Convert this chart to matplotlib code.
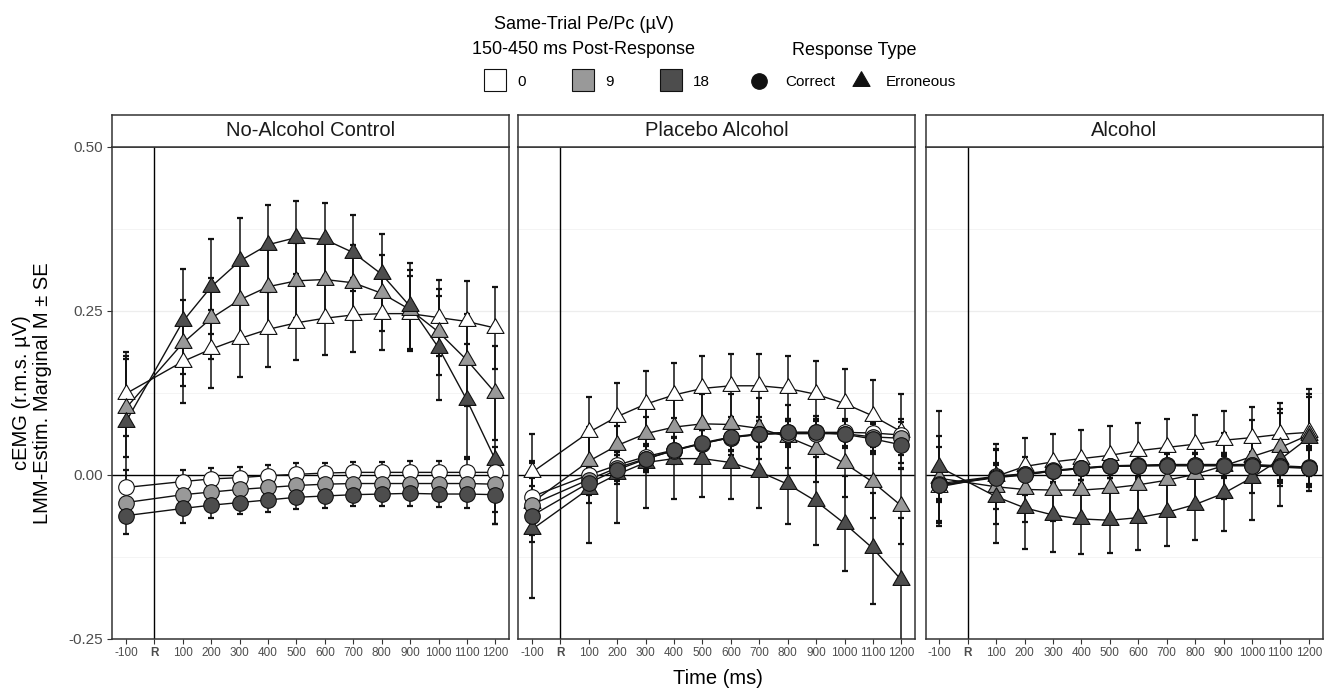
import matplotlib
matplotlib.use('Agg')
import matplotlib.pyplot as plt
from matplotlib.lines import Line2D

plt.rcParams['font.family'] = ['Liberation Sans', 'DejaVu Sans']

# ---------------- data ----------------
times = [-100, 100, 200, 300, 400, 500, 600, 700, 800, 900, 1000, 1100, 1200]
tick_positions = [-100, 0, 100, 200, 300, 400, 500, 600, 700, 800, 900, 1000, 1100, 1200]
tick_labels = ['-100', 'R', '100', '200', '300', '400', '500', '600', '700', '800',
               '900', '1000', '1100', '1200']
y_ticks = [-0.25, 0.0, 0.25, 0.5]
y_tick_labels = ['-0.25', '0.00', '0.25', '0.50']
panels = ['No-Alcohol Control', 'Placebo Alcohol', 'Alcohol']
pe_levels = ['0', '9', '18']
pe_fills = ['#FFFFFF', '#999999', '#4D4D4D']
response_types = ['Correct', 'Erroneous']

# No-Alcohol Control
ctrl_err_0 = [0.124, 0.173, 0.192, 0.208, 0.222, 0.232, 0.239, 0.244, 0.246, 0.246, 0.240, 0.234, 0.224]
ctrl_err_9 = [0.102, 0.201, 0.239, 0.267, 0.287, 0.296, 0.298, 0.293, 0.277, 0.252, 0.218, 0.175, 0.125]
ctrl_err_18 = [0.081, 0.234, 0.287, 0.326, 0.351, 0.362, 0.359, 0.339, 0.306, 0.257, 0.194, 0.114, 0.023]
ctrl_cor_0 = [-0.019, -0.010, -0.006, -0.004, -0.001, 0.001, 0.003, 0.004, 0.004, 0.004, 0.004, 0.004, 0.004]
ctrl_cor_9 = [-0.042, -0.030, -0.026, -0.022, -0.019, -0.016, -0.014, -0.013, -0.013, -0.013, -0.013, -0.013, -0.014]
ctrl_cor_18 = [-0.062, -0.051, -0.046, -0.042, -0.038, -0.034, -0.032, -0.030, -0.029, -0.028, -0.029, -0.029, -0.030]
ctrl_err_0_se = [0.064, 0.064, 0.060, 0.058, 0.057, 0.056, 0.056, 0.056, 0.056, 0.057, 0.058, 0.061, 0.063]
ctrl_err_9_se = [0.075, 0.066, 0.062, 0.060, 0.058, 0.057, 0.057, 0.057, 0.058, 0.060, 0.065, 0.070, 0.072]
ctrl_err_18_se = [0.100, 0.080, 0.072, 0.066, 0.060, 0.056, 0.056, 0.058, 0.062, 0.066, 0.079, 0.086, 0.097]
ctrl_cor_0_se = [0.026, 0.017, 0.016, 0.016, 0.016, 0.017, 0.016, 0.016, 0.016, 0.017, 0.018, 0.020, 0.038]
ctrl_cor_9_se = [0.026, 0.019, 0.017, 0.017, 0.017, 0.017, 0.017, 0.017, 0.017, 0.018, 0.019, 0.021, 0.042]
ctrl_cor_18_se = [0.028, 0.022, 0.020, 0.018, 0.018, 0.018, 0.018, 0.018, 0.018, 0.019, 0.020, 0.022, 0.044]

# Placebo Alcohol
plac_err_0 = [0.004, 0.065, 0.089, 0.108, 0.122, 0.132, 0.136, 0.136, 0.132, 0.123, 0.109, 0.090, 0.066]
plac_err_9 = [-0.042, 0.021, 0.045, 0.063, 0.073, 0.078, 0.077, 0.071, 0.058, 0.040, 0.018, -0.011, -0.047]
plac_err_18 = [-0.083, -0.021, 0.001, 0.019, 0.025, 0.025, 0.019, 0.005, -0.014, -0.040, -0.074, -0.112, -0.160]
plac_cor_0 = [-0.033, 0.000, 0.015, 0.028, 0.038, 0.048, 0.057, 0.062, 0.065, 0.065, 0.065, 0.064, 0.061]
plac_cor_9 = [-0.045, -0.007, 0.011, 0.025, 0.037, 0.048, 0.057, 0.062, 0.063, 0.063, 0.063, 0.058, 0.056]
plac_cor_18 = [-0.062, -0.012, 0.008, 0.024, 0.038, 0.049, 0.058, 0.063, 0.065, 0.065, 0.062, 0.055, 0.046]
plac_err_0_se = [0.059, 0.054, 0.052, 0.051, 0.049, 0.049, 0.048, 0.048, 0.049, 0.051, 0.053, 0.055, 0.057]
plac_err_9_se = [0.060, 0.052, 0.050, 0.048, 0.047, 0.046, 0.046, 0.047, 0.048, 0.050, 0.052, 0.055, 0.058]
plac_err_18_se = [0.104, 0.082, 0.074, 0.070, 0.062, 0.058, 0.056, 0.056, 0.061, 0.067, 0.073, 0.084, 0.095]
plac_cor_0_se = [0.028, 0.022, 0.020, 0.020, 0.020, 0.020, 0.020, 0.020, 0.020, 0.020, 0.021, 0.022, 0.025]
plac_cor_9_se = [0.028, 0.022, 0.020, 0.020, 0.020, 0.020, 0.020, 0.020, 0.020, 0.020, 0.021, 0.022, 0.025]
plac_cor_18_se = [0.030, 0.030, 0.022, 0.020, 0.020, 0.020, 0.020, 0.020, 0.020, 0.020, 0.021, 0.023, 0.027]

# Alcohol
alc_err_0 = [-0.018, -0.002, 0.013, 0.020, 0.025, 0.030, 0.037, 0.042, 0.047, 0.053, 0.057, 0.062, 0.065]
alc_err_9 = [-0.005, -0.018, -0.022, -0.023, -0.023, -0.020, -0.015, -0.008, 0.001, 0.014, 0.028, 0.042, 0.061]
alc_err_18 = [0.012, -0.033, -0.050, -0.061, -0.067, -0.069, -0.065, -0.057, -0.045, -0.028, -0.004, 0.024, 0.057]
alc_cor_0 = [-0.013, -0.002, 0.002, 0.007, 0.011, 0.014, 0.015, 0.016, 0.016, 0.016, 0.016, 0.014, 0.012]
alc_cor_9 = [-0.015, -0.003, 0.001, 0.006, 0.010, 0.013, 0.014, 0.015, 0.015, 0.015, 0.015, 0.013, 0.011]
alc_cor_18 = [-0.016, -0.004, 0.000, 0.006, 0.010, 0.013, 0.014, 0.014, 0.014, 0.014, 0.014, 0.012, 0.010]
alc_err_0_se = [0.060, 0.050, 0.044, 0.043, 0.043, 0.044, 0.043, 0.043, 0.045, 0.045, 0.047, 0.048, 0.054]
alc_err_9_se = [0.065, 0.057, 0.050, 0.047, 0.045, 0.044, 0.044, 0.045, 0.047, 0.050, 0.056, 0.059, 0.062]
alc_err_18_se = [0.085, 0.071, 0.063, 0.057, 0.053, 0.050, 0.050, 0.051, 0.054, 0.057, 0.065, 0.071, 0.074]
alc_cor_0_se = [0.024, 0.020, 0.018, 0.018, 0.018, 0.018, 0.018, 0.018, 0.018, 0.018, 0.019, 0.022, 0.026]
alc_cor_9_se = [0.024, 0.020, 0.018, 0.018, 0.018, 0.018, 0.018, 0.018, 0.018, 0.018, 0.019, 0.022, 0.030]
alc_cor_18_se = [0.025, 0.020, 0.018, 0.018, 0.018, 0.018, 0.018, 0.018, 0.018, 0.018, 0.020, 0.024, 0.034]

panel_data = [
    {'Erroneous': [ctrl_err_0, ctrl_err_9, ctrl_err_18],
     'Erroneous_se': [ctrl_err_0_se, ctrl_err_9_se, ctrl_err_18_se],
     'Correct': [ctrl_cor_0, ctrl_cor_9, ctrl_cor_18],
     'Correct_se': [ctrl_cor_0_se, ctrl_cor_9_se, ctrl_cor_18_se]},
    {'Erroneous': [plac_err_0, plac_err_9, plac_err_18],
     'Erroneous_se': [plac_err_0_se, plac_err_9_se, plac_err_18_se],
     'Correct': [plac_cor_0, plac_cor_9, plac_cor_18],
     'Correct_se': [plac_cor_0_se, plac_cor_9_se, plac_cor_18_se]},
    {'Erroneous': [alc_err_0, alc_err_9, alc_err_18],
     'Erroneous_se': [alc_err_0_se, alc_err_9_se, alc_err_18_se],
     'Correct': [alc_cor_0, alc_cor_9, alc_cor_18],
     'Correct_se': [alc_cor_0_se, alc_cor_9_se, alc_cor_18_se]},
]

# ---------------- layout ----------------
W, H = 1333, 689
fig = plt.figure(figsize=(W / 100, H / 100), dpi=100)

def fx(x):
    return x / W

def fy(y):
    return 1 - y / H

TRI = [(0, 1), (-0.866, -0.5), (0.866, -0.5), (0, 1)]
markers = {'Correct': 'o', 'Erroneous': TRI}
msizes = {'Correct': 11.2, 'Erroneous': 14.2}

panel_left = [112.3, 518.3, 925.7]
panel_w = 397.0
top_px, bot_px = 147.0, 639.0
strip_top = 115.0
border_col = '#333333'

axes = []
for i, name in enumerate(panels):
    ax = fig.add_axes([fx(panel_left[i]), fy(bot_px), panel_w / W, (bot_px - top_px) / H])
    axes.append(ax)
    ax.set_xlim(-148, 1249)
    ax.set_ylim(-0.25, 0.5)
    # grid
    for gy in [0.375, 0.125, -0.125]:
        ax.axhline(gy, color='#F3F3F3', lw=0.6, zorder=0)
    for gy in [0.25]:
        ax.axhline(gy, color='#EDEDED', lw=0.9, zorder=0)
    ax.axhline(0, color='black', lw=1.0, zorder=1)
    ax.axvline(0, color='black', lw=1.0, zorder=1)

    d = panel_data[i]
    # error bars
    for rt in ['Erroneous', 'Correct']:
        for k in range(3):
            ax.errorbar(times, d[rt][k], yerr=d[rt + '_se'][k], fmt='none',
                        ecolor='#111111', elinewidth=1.1, capsize=2.2, capthick=1.6,
                        zorder=2)
    # lines
    for rt in ['Erroneous', 'Correct']:
        for k in range(3):
            ax.plot(times, d[rt][k], color='#111111', lw=1.0, zorder=3)
    # points
    z = 4
    for rt in ['Erroneous', 'Correct']:
        for k in range(3):
            ax.plot(times, d[rt][k], ls='none', marker=markers[rt], ms=msizes[rt],
                    mfc=pe_fills[k], mec='#111111', mew=0.8, zorder=z)
            z += 0.1

    for s in ax.spines.values():
        s.set_color(border_col)
        s.set_linewidth(1.1)
    ax.set_xticks(tick_positions)
    ax.set_xticklabels(tick_labels, fontsize=8.5, color='#4D4D4D')
    for lab in ax.get_xticklabels():
        if lab.get_text() == 'R':
            lab.set_fontweight('bold')
    ax.tick_params(axis='x', length=3.5, width=0.8, color=border_col, pad=2)
    if i == 0:
        ax.set_yticks(y_ticks)
        ax.set_yticklabels(y_tick_labels, fontsize=11, color='#4D4D4D')
        ax.tick_params(axis='y', length=3.5, width=0.8, color=border_col, pad=3)
    else:
        ax.set_yticks(y_ticks)
        ax.tick_params(axis='y', left=False, labelleft=False)

    # strip
    sax = fig.add_axes([fx(panel_left[i]), fy(top_px), panel_w / W, (top_px - strip_top) / H])
    sax.set_xticks([])
    sax.set_yticks([])
    sax.set_facecolor('white')
    for s in sax.spines.values():
        s.set_color(border_col)
        s.set_linewidth(1.1)
    sax.text(0.5, 0.5, name, ha='center', va='center', fontsize=14.5, color='#1A1A1A',
             transform=sax.transAxes)

# axis titles
fig.text(fx(32), fy(393), 'cEMG (r.m.s. µV)\nLMM-Estim. Marginal M ± SE', rotation=90,
         ha='center', va='center', fontsize=14.5, linespacing=1.1, color='black')
fig.text(fx(717.5), fy(684), 'Time (ms)', ha='center', va='baseline', fontsize=14.5,
         color='black')

# ---------------- legend (manual) ----------------
fig.text(fx(584), fy(29), 'Same-Trial Pe/Pc (µV)', ha='center', va='baseline', fontsize=13)
fig.text(fx(584), fy(54), '150-450 ms Post-Response', ha='center', va='baseline', fontsize=13)
sq_centers = [495, 583, 671]
for k in range(3):
    fig.add_artist(Line2D([fx(sq_centers[k])], [fy(80)], transform=fig.transFigure,
                          marker='s', ms=16.5, mfc=pe_fills[k], mec='#111111', mew=0.8, ls='none'))
    fig.text(fx(sq_centers[k] + 22), fy(86), pe_levels[k], ha='left', va='baseline', fontsize=11)

fig.text(fx(854), fy(55), 'Response Type', ha='center', va='baseline', fontsize=13)
key_x = {'Correct': 759, 'Erroneous': 861}
lab_x = {'Correct': 785, 'Erroneous': 886}
for rt in response_types:
    fig.add_artist(Line2D([fx(key_x[rt])], [fy(81)], transform=fig.transFigure,
                          marker=markers[rt], ms=msizes[rt], mfc='#111111', mec='#111111',
                          mew=0.8, ls='none'))
    fig.text(fx(lab_x[rt]), fy(86), rt, ha='left', va='baseline', fontsize=11)

fig.savefig('out.png', dpi=100, facecolor='white')
